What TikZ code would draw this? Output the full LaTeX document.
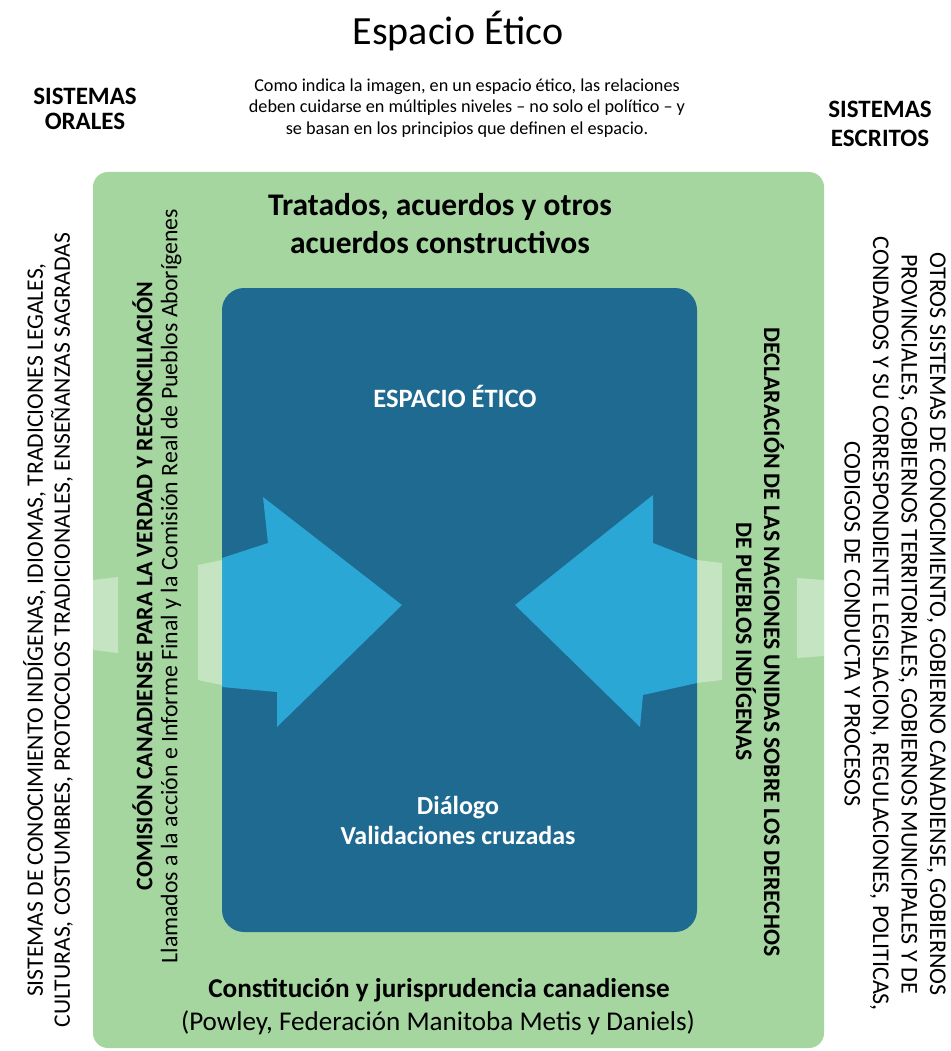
\documentclass[tikz,border=0pt]{standalone}
\usepackage{fontspec}
\setmainfont{Carlito}
\definecolor{greenbg}{HTML}{A6D6A0}
\definecolor{darkbox}{HTML}{1E6A90}
\definecolor{arrowblue}{HTML}{2AA7D4}
\newcommand{\fsz}[2]{\fontsize{#1}{#2}\selectfont}
\begin{document}
\begin{tikzpicture}[x=1pt,y=-1pt,
  txt/.style={inner sep=0pt, outer sep=0pt, align=center, text=black},
  wtxt/.style={inner sep=0pt, outer sep=0pt, align=center, text=white},
  patch/.style={fill=white, fill opacity=0.35, draw=none},
  bigarrow/.style={fill=arrowblue, draw=none}]
\path[use as bounding box] (0,0) rectangle (950,1051);
\fill[white] (0,0) rectangle (950,1051);

% green frame
\fill[greenbg, rounded corners=15pt] (93,172) rectangle (824,1048);
% dark ethical space
\fill[darkbox, rounded corners=22pt] (222,288) rectangle (697,932);

% left arrow
\fill[bigarrow] (222,558) -- (268,543) -- (263,497) -- (402,605) -- (277,727) -- (277,692) -- (222,687) -- cycle;
\fill[patch] (93,580) -- (118,577) -- (118,653) -- (93,650) -- cycle;
\fill[patch] (198,565) -- (222,560) -- (222,685) -- (198,680) -- cycle;
% right arrow
\fill[bigarrow] (697,560) -- (653,543) -- (653,495) -- (515,605) -- (640,727) -- (643,695) -- (697,683) -- cycle;
\fill[patch] (697,560) -- (722,563) -- (722,680) -- (697,683) -- cycle;
\fill[patch] (797,578) -- (824,580) -- (824,656) -- (797,658) -- cycle;

% texts
\node[txt, anchor=base, font=\fsz{40}{46}] (title) at (458,45) {Espacio Ético};
\node[txt, font=\fsz{18.2}{21.5}] (subtitle) at (467,108) {Como indica la imagen, en un espacio ético, las relaciones\\ deben cuidarse en múltiples niveles -- no solo el político -- y\\ se basan en los principios que definen el espacio.};
\node[txt, font=\bfseries\fsz{25}{25}] (orales) at (85,109) {SISTEMAS\\ORALES};
\node[txt, font=\bfseries\fsz{25}{29}] (escritos) at (880,124) {SISTEMAS\\ESCRITOS};
\node[txt, font=\bfseries\fsz{31.5}{38}] (tratados) at (440,224) {Tratados, acuerdos y otros\\acuerdos constructivos};
\node[wtxt, anchor=base, font=\bfseries\fsz{26.5}{30}] (espacio) at (455,407) {ESPACIO ÉTICO};
\node[wtxt, font=\bfseries\fsz{26}{30}] (dialogo) at (458,820) {Diálogo\\Validaciones cruzadas};
\node[txt, anchor=base, font=\bfseries\fsz{27.2}{30}] (constitucion) at (439,997) {Constitución y jurisprudencia canadiense};
\node[txt, anchor=base, font=\fsz{27.1}{30}] (powley) at (438,1030) {(Powley, Federación Manitoba Metis y Daniels)};

\node[txt, rotate=90, font=\fsz{23.6}{27}] (orales-list) at (48,630) {SISTEMAS DE CONOCIMIENTO INDÍGENAS, IDIOMAS, TRADICIONES LEGALES,\\CULTURAS, COSTUMBRES, PROTOCOLOS TRADICIONALES, ENSEÑANZAS SAGRADAS};
\node[txt, rotate=90, font=\fsz{23.8}{25}] (comision) at (157,586) {\textbf{COMISIÓN CANADIENSE PARA LA VERDAD Y RECONCILIACIÓN}\\Llamados a la acción e Informe Final y la Comisión Real de Pueblos Aborígenes};
\node[txt, rotate=-90, font=\bfseries\fsz{23.7}{28}] (declaracion) at (760,642) {DECLARACIÓN DE LAS NACIONES UNIDAS SOBRE LOS DERECHOS\\DE PUEBLOS INDÍGENAS};
\node[txt, rotate=-90, font=\fsz{24}{28.5}] (escritos-list) at (895,624) {OTROS SISTEMAS DE CONOCIMIENTO, GOBIERNO CANADIENSE, GOBIERNOS\\PROVINCIALES, GOBIERNOS TERRITORIALES, GOBIERNOS MUNICIPALES Y DE\\CONDADOS Y SU CORRESPONDIENTE LEGISLACION, REGULACIONES, POLITICAS,\\CODIGOS DE CONDUCTA Y PROCESOS};
\end{tikzpicture}
\end{document}
